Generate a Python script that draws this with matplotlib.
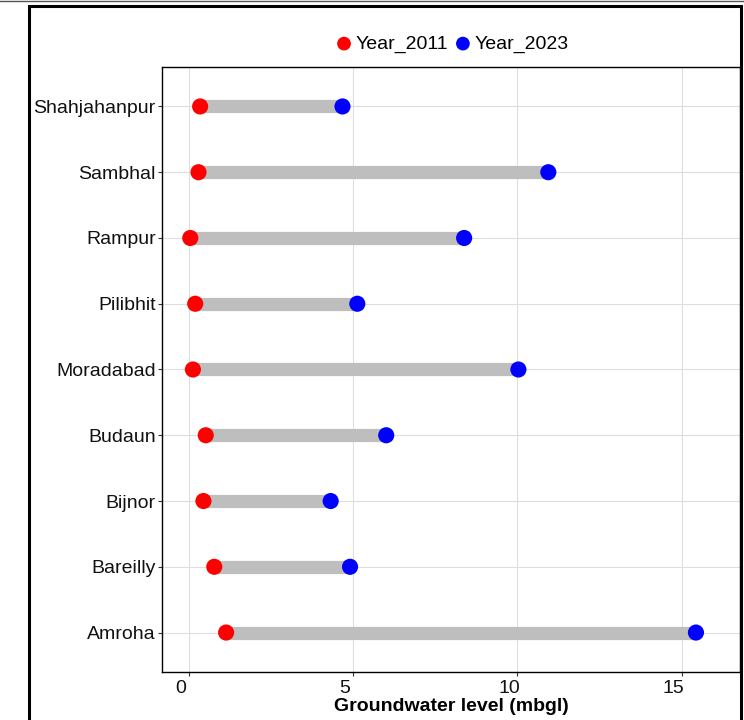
import matplotlib
matplotlib.use("Agg")
import matplotlib.pyplot as plt
import matplotlib.transforms as mtransforms
from matplotlib.patches import Rectangle
from matplotlib.lines import Line2D

plt.rcParams['font.family'] = ['Liberation Sans', 'DejaVu Sans']

# districts, bottom to top
districts = ["Amroha", "Bareilly", "Bijnor", "Budaun", "Moradabad",
             "Pilibhit", "Rampur", "Sambhal", "Shahjahanpur"]
year_2011 = [1.14, 0.78, 0.45, 0.52, 0.13, 0.20, 0.05, 0.30, 0.35]
year_2023 = [15.43, 4.91, 4.32, 6.01, 10.03, 5.13, 8.38, 10.94, 4.68]
xticks = [0, 5, 10, 15]

fig = plt.figure(figsize=(7.44, 7.2), dpi=100)
ax = fig.add_axes([162/744, 48/720, (740-162)/744, (672-67)/720])

ypos = list(range(len(districts)))
ax.hlines(ypos, year_2011, year_2023, color="#BEBEBE", lw=9.5, zorder=2)
ax.scatter(year_2011, ypos, s=135, color="#FF0000", zorder=3, label="Year_2011",
           edgecolors="none")
ax.scatter(year_2023, ypos, s=135, color="#0000FF", zorder=3, label="Year_2023",
           edgecolors="none")

ax.set_xlim(-0.81, 16.77)
ax.set_ylim(-0.6, 8.6)
ax.set_xticks(xticks)
ax.set_yticks(ypos)
ax.set_yticklabels(districts)
ax.grid(True, color="#DEDEDE", lw=0.8, zorder=0)
ax.set_axisbelow(True)
for s in ax.spines.values():
    s.set_linewidth(1.0)
    s.set_color("black")
ax.tick_params(axis="both", labelsize=14, colors="#333333", length=3,
               labelcolor="#111111")
ax.tick_params(axis="y", pad=1.5)
ax.tick_params(axis="x", pad=2.5)

# x tick labels in the reference sit slightly left of the grid lines
offset = mtransforms.ScaledTranslation(-8/100, 0, fig.dpi_scale_trans)
for lab in ax.get_xticklabels():
    lab.set_transform(lab.get_transform() + offset)

ax.set_xlabel("Groundwater level (mbgl)", fontsize=14, fontweight="bold",
              labelpad=1)

ax.legend(loc="center", bbox_to_anchor=(452/744, 1 - 44/720),
          bbox_transform=fig.transFigure, ncol=2, frameon=False, fontsize=14,
          handletextpad=0.15, columnspacing=0.3, handlelength=0.9,
          borderpad=0, markerscale=0.85)

# outer frame
fig.add_artist(Rectangle((29/744, -0.05), (741-29)/744, 1.05 - 6/720,
                         transform=fig.transFigure, fill=False, lw=2.2,
                         edgecolor="black"))
fig.add_artist(Line2D([0, 1], [1 - 0.8/720, 1 - 0.8/720],
                      transform=fig.transFigure, color="#555555", lw=1))

fig.savefig("out.png", dpi=100)
